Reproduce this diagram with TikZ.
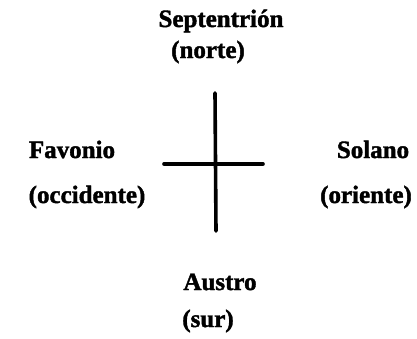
\documentclass[tikz,border=0pt]{standalone}
\usepackage{fontspec}
\setmainfont{Liberation Serif}[BoldFont={* Bold}, BoldFeatures={FakeBold=1.6}]
\begin{document}
\begin{tikzpicture}[x=1pt,y=-1pt,
  lbl/.style={font=\bfseries\fontsize{25}{29}\selectfont, inner sep=0pt, anchor=base},
  armline/.style={line width=3.6pt, line cap=round}]
\useasboundingbox (0,0) rectangle (417,338);
\node[lbl] (sep) at (221,27) {Septentrión};
\node[lbl] (nor) at (208,58) {(norte)};
\node[lbl] (fav) at (72,158) {Favonio};
\node[lbl] (occ) at (87,203) {(occidente)};
\node[lbl] (sol) at (373,158) {Solano};
\node[lbl] (ori) at (366,203) {(oriente)};
\node[lbl] (aus) at (220,290) {Austro};
\node[lbl] (sur) at (208,327) {(sur)};
\coordinate (top) at (215,93);
\coordinate (bot) at (216,231);
\coordinate (lft) at (164,164);
\coordinate (rgt) at (263,164);
\draw[armline] (top) -- (bot);
\draw[armline] (lft) -- (rgt);
\end{tikzpicture}
\end{document}
